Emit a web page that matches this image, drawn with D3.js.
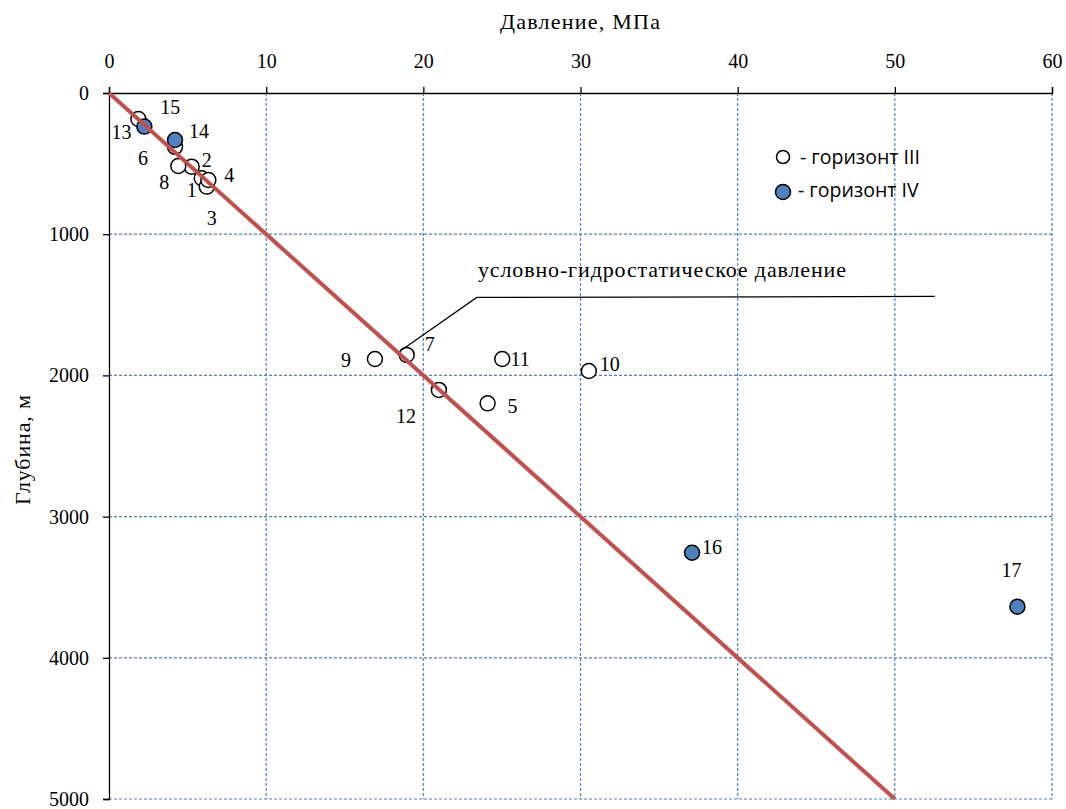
<!DOCTYPE html>
<html>
<head>
<meta charset="utf-8">
<script src="https://cdn.jsdelivr.net/npm/d3@7"></script>
<style>
  body { margin: 0; background: #fff; }
  svg text { font-family: "Liberation Serif", "Times New Roman", serif; fill: #000; }
</style>
</head>
<body>
<svg id="chart"></svg>
<script>
//data: pressure (MPa) and depth (m) per well
const labels3 = ["1", "2", "3", "4", "5", "6", "7", "8", "9", "10", "11", "12", "13"];
const pressure3 = [5.9, 5.26, 6.22, 6.32, 24.09, 4.2, 18.94, 4.41, 16.92, 30.53, 25.02, 20.99, 1.87];
const depth3 = [604, 522, 663, 616, 2198, 381, 1855, 517, 1884, 1969, 1884, 2103, 184];

const labels4 = ["14", "15", "16", "17"];
const pressure4 = [4.2, 2.25, 37.1, 57.8];
const depth4 = [333, 238, 3256, 3638];

//hydrostatic line: 10 MPa per 1000 m
const hydroPressure = [0, 50];
const hydroDepth = [0, 5000];

const xTicks = [0, 10, 20, 30, 40, 50, 60];
const yTicks = [0, 1000, 2000, 3000, 4000, 5000];

//label offsets in px from the point centre
const labelOffset = {
    "1": [-10, 12], "2": [15, -7], "3": [5, 31], "4": [21, -5], "5": [25, 3],
    "6": [-32, 11], "7": [23, -11], "8": [-14, 16], "9": [-29, 1], "10": [21, -7],
    "11": [18, 0], "12": [-33, 26], "13": [-17, 13], "14": [24, -9], "15": [26, -20],
    "16": [20, -6], "17": [-6, -37]
};

const width = 1066, height = 809;
const svg = d3.select("#chart").attr("width", width).attr("height", height);

const x = d3.scaleLinear().domain([0, 60]).range([109, 1052]);
const y = d3.scaleLinear().domain([0, 5000]).range([93, 799]);

//dashed grid
const grid = svg.append("g");
grid.selectAll(".gx").data(xTicks.slice(1)).join("line")
    .attr("x1", d => x(d)).attr("x2", d => x(d))
    .attr("y1", y(0)).attr("y2", y(5000))
    .attr("stroke", "#4F81BD").attr("stroke-width", 1.2).attr("stroke-dasharray", "3,2");
grid.selectAll(".gy").data(yTicks.slice(1)).join("line")
    .attr("y1", d => y(d)).attr("y2", d => y(d))
    .attr("x1", x(0)).attr("x2", x(60))
    .attr("stroke", "#4F81BD").attr("stroke-width", 1.2).attr("stroke-dasharray", "3,2");

//axes
const xAxis = svg.append("g").attr("transform", `translate(0,${y(0)})`)
    .call(d3.axisTop(x).tickValues(xTicks).tickFormat(d3.format("d")).tickSize(6).tickPadding(19));
const yAxis = svg.append("g").attr("transform", `translate(${x(0)},0)`)
    .call(d3.axisLeft(y).tickValues(yTicks).tickFormat(d3.format("d")).tickSize(6).tickPadding(14));
[xAxis, yAxis].forEach(a => {
    a.selectAll("path, line").attr("stroke", "#000").attr("stroke-width", 1.3);
    a.selectAll("text").style("font-family", "Liberation Serif, serif").style("font-size", "20px").attr("fill", "#000");
});

//axis titles (stretched to the width they have in the picture)
svg.append("text").attr("x", 500).attr("y", 29)
    .attr("textLength", 160).attr("lengthAdjust", "spacing")
    .style("font-size", "22px").text("Давление, МПа");
svg.append("text").attr("transform", "translate(30,505) rotate(-90)")
    .attr("textLength", 110).attr("lengthAdjust", "spacing")
    .style("font-size", "22px").text("Глубина, м");

//points
const pts3 = labels3.map((l, i) => ({ label: l, p: pressure3[i], d: depth3[i] }));
const pts4 = labels4.map((l, i) => ({ label: l, p: pressure4[i], d: depth4[i] }));

svg.append("g").selectAll("circle").data(pts3).join("circle")
    .attr("cx", d => x(d.p)).attr("cy", d => y(d.d)).attr("r", 7.5)
    .attr("fill", "#fff").attr("stroke", "#000").attr("stroke-width", 1.5);
svg.append("g").selectAll("circle").data(pts4).join("circle")
    .attr("cx", d => x(d.p)).attr("cy", d => y(d.d)).attr("r", 7.5)
    .attr("fill", "#4F81BD").attr("stroke", "#000").attr("stroke-width", 1.5);

//hydrostatic line on top of the points
svg.append("line")
    .attr("x1", x(hydroPressure[0])).attr("y1", y(hydroDepth[0]))
    .attr("x2", x(hydroPressure[1])).attr("y2", y(hydroDepth[1]))
    .attr("stroke", "#C0504D").attr("stroke-width", 4);

//point labels
svg.append("g").selectAll("text").data(pts3.concat(pts4)).join("text")
    .attr("x", d => x(d.p) + labelOffset[d.label][0])
    .attr("y", d => y(d.d) + labelOffset[d.label][1])
    .attr("text-anchor", "middle").attr("dominant-baseline", "central")
    .style("font-size", "20px").text(d => d.label);

//annotation leader
const leader = [[18.62, 1820], [23.4, 1448], [52.55, 1441]];
svg.append("path")
    .attr("d", d3.line().x(d => x(d[0])).y(d => y(d[1]))(leader))
    .attr("fill", "none").attr("stroke", "#000").attr("stroke-width", 1.3);
svg.append("text").attr("x", 478).attr("y", 277)
    .attr("textLength", 368).attr("lengthAdjust", "spacing")
    .style("font-size", "22px").text("условно-гидростатическое давление");

//legend
const legend = svg.append("g");
legend.append("circle").attr("cx", 783).attr("cy", 157).attr("r", 6.5)
    .attr("fill", "#fff").attr("stroke", "#000").attr("stroke-width", 1.5);
legend.append("circle").attr("cx", 783).attr("cy", 192).attr("r", 7.5)
    .attr("fill", "#4F81BD").attr("stroke", "#000").attr("stroke-width", 1.5);
legend.append("text").attr("x", 800).attr("y", 164)
    .style("font-family", "Open Sans, sans-serif").style("font-size", "19.5px").text("- горизонт III");
legend.append("text").attr("x", 798).attr("y", 197)
    .style("font-family", "Open Sans, sans-serif").style("font-size", "19.5px").text("- горизонт IV");
</script>
</body>
</html>
